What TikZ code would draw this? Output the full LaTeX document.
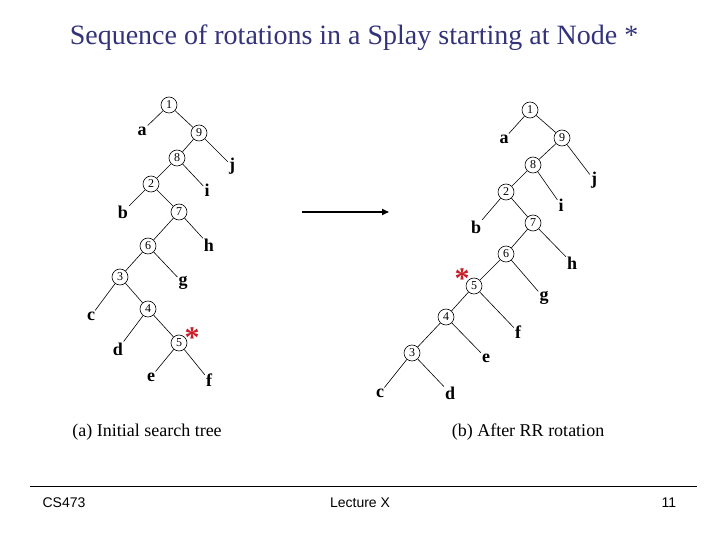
\documentclass[tikz,border=0pt]{standalone}
\usepackage{fontspec}
\usetikzlibrary{arrows.meta}
\setmainfont{Liberation Serif}
\newfontfamily\footfont{Liberation Sans}
\definecolor{titleblue}{RGB}{51,51,122}
\definecolor{starred}{RGB}{200,30,40}
\begin{document}
\begin{tikzpicture}[x=1pt,y=-1pt,
  tn/.style={circle,draw,line width=0.6pt,minimum size=16pt,inner sep=0pt,font=\fontsize{12}{12}\selectfont},
  lf/.style={inner sep=1pt,font=\fontsize{18}{18}\selectfont\bfseries},
  ed/.style={line width=0.6pt},
  redstar/.style={text=starred,inner sep=0pt,font=\fontsize{30}{30}\selectfont\bfseries},
  captext/.style={font=\fontsize{18}{18}\selectfont},
  foot/.style={font=\footfont\fontsize{14}{14}\selectfont}]
\useasboundingbox (0,0) rectangle (720,540);
\node[text=titleblue,font=\fontsize{28}{28}\selectfont] (title) at (354,38) {Sequence of rotations in a Splay starting at Node *};
% left tree
\node[tn] (L1) at (169,105) {1};
\node[tn] (L9) at (199,133) {9};
\node[tn] (L8) at (177,158) {8};
\node[tn] (L2) at (151,184) {2};
\node[tn] (L7) at (179,212) {7};
\node[tn] (L6) at (148,246) {6};
\node[tn] (L3) at (120,277) {3};
\node[tn] (L4) at (148,309) {4};
\node[tn] (L5) at (179,343) {5};
\node[lf] (La) at (142,131) {a};
\node[lf] (Lj) at (232,166) {j};
\node[lf] (Li) at (207,190) {i};
\node[lf] (Lb) at (123,212) {b};
\node[lf] (Lh) at (209,245) {h};
\node[lf] (Lg) at (183,283) {g};
\node[lf] (Lc) at (91,316) {c};
\node[lf] (Ld) at (118,349) {d};
\node[lf] (Le) at (151,377) {e};
\node[lf] (Lf) at (209,380) {f};
\node[redstar] (Ls) at (192,338) {*};
\draw[ed] (L1)--(La) (L1)--(L9) (L9)--(L8) (L9)--(Lj) (L8)--(L2) (L8)--(Li)
  (L2)--(Lb) (L2)--(L7) (L7)--(L6) (L7)--(Lh) (L6)--(L3) (L6)--(Lg)
  (L3)--(Lc) (L3)--(L4) (L4)--(Ld) (L4)--(L5) (L5)--(Le) (L5)--(Lf);
% arrow
\coordinate (A1) at (302,212);
\coordinate (A2) at (389,212);
\draw[line width=1.6pt,-{Triangle[length=7pt,width=6pt]}] (A1)--(A2);
% right tree
\node[tn] (R1) at (530,110) {1};
\node[tn] (R9) at (562,138) {9};
\node[tn] (R8) at (533,165) {8};
\node[tn] (R2) at (506,192) {2};
\node[tn] (R7) at (533,223) {7};
\node[tn] (R6) at (506,254) {6};
\node[tn] (R5) at (474,286) {5};
\node[tn] (R4) at (446,317) {4};
\node[tn] (R3) at (412,353) {3};
\node[lf] (Ra) at (504,139) {a};
\node[lf] (Rj) at (594,180) {j};
\node[lf] (Ri) at (561,205) {i};
\node[lf] (Rb) at (476,227) {b};
\node[lf] (Rh) at (572,263) {h};
\node[lf] (Rg) at (544,298) {g};
\node[lf] (Rf) at (518,332) {f};
\node[lf] (Re) at (486,358) {e};
\node[lf] (Rc) at (380,393) {c};
\node[lf] (Rd) at (450,393) {d};
\node[redstar] (Rs) at (462,279) {*};
\draw[ed] (R1)--(Ra) (R1)--(R9) (R9)--(R8) (R9)--(Rj) (R8)--(R2) (R8)--(Ri)
  (R2)--(Rb) (R2)--(R7) (R7)--(R6) (R7)--(Rh) (R6)--(R5) (R6)--(Rg)
  (R5)--(R4) (R5)--(Rf) (R4)--(R3) (R4)--(Re) (R3)--(Rc) (R3)--(Rd);
% captions
\node[captext] (ca) at (147,432) {(a) Initial search tree};
\node[captext] (cb) at (528,432) {(b) After RR rotation};
% footer
\coordinate (F1) at (30,486);
\coordinate (F2) at (697,486);
\draw[line width=1pt] (F1)--(F2);
\node[foot] (f1) at (64,503) {CS473};
\node[foot] (f2) at (360,503) {Lecture X};
\node[foot] (f3) at (669,503) {11};
\end{tikzpicture}
\end{document}
